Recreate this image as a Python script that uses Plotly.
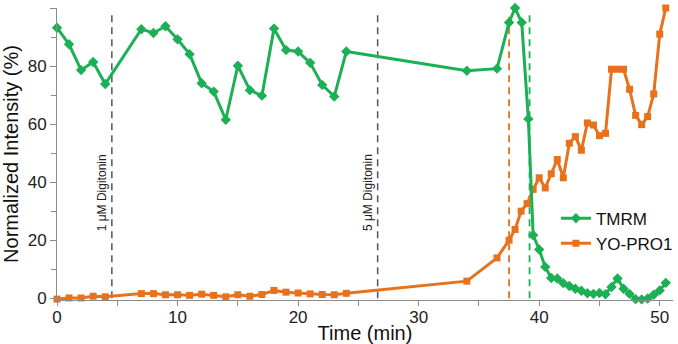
import plotly.graph_objects as go

# ---- data ----
tmrm_time = [0, 1, 2, 3, 4, 7, 8, 9, 10, 11, 12, 13, 14, 15, 16, 17, 18, 19, 20, 21, 22, 23, 24,
             34, 36.5, 37.5, 38, 38.55, 39.1, 39.5, 40, 40.5, 41, 41.5, 42, 42.5, 43, 43.5, 44,
             44.5, 45, 45.5, 46, 46.5, 47, 47.5, 48, 48.5, 49, 49.5, 50, 50.5]
tmrm_vals = [93.2, 87.5, 78.6, 81.4, 73.8, 92.7, 91.4, 93.7, 89.2, 84.1, 74.1, 71.2, 61.5, 80.1,
             71.7, 69.8, 92.9, 85.5, 85.0, 81.1, 73.5, 69.5, 85.0,
             78.4, 79.1, 95.0, 100, 95.0, 61.8, 21.7, 16.8, 10.8, 7.0, 6.8, 5.2, 4.2, 3.3, 2.6, 1.7,
             1.5, 1.8, 1.4, 3.9, 6.8, 3.3, 1.5, -0.3, -0.4, -0.1, 1.2, 2.7, 5.3]

yopro_time = [0, 1, 2, 3, 4, 7, 8, 9, 10, 11, 12, 13, 14, 15, 16, 17, 18, 19, 20, 21, 22, 23, 24,
              34, 36.5, 37.5, 38, 38.5, 39, 39.5, 40, 40.5, 41, 41.5, 42, 42.5, 43, 43.5, 44,
              44.5, 45, 45.5, 46, 46.5, 47, 47.5, 48, 48.5, 49, 49.5, 50, 50.5]
yopro_vals = [-0.3, 0.1, 0.1, 0.7, 0.5, 1.6, 1.6, 1.2, 1.2, 1.0, 1.4, 1.0, 0.5, 1.2, 0.7, 1.3,
              2.7, 2.1, 1.8, 1.5, 1.3, 1.2, 1.7,
              5.9, 13.9, 20.0, 23.7, 30.0, 32.6, 37.5, 41.5, 38.0, 42.9, 47.8, 41.5, 53.4, 55.7,
              51.0, 60.4, 59.7, 56.0, 56.8, 78.9, 78.9, 78.9, 72.0, 63.0, 59.8, 62.6, 70.4, 91.0, 100]

digitonin_times = [4.55, 26.6]
digitonin_labels = ["1 μM Digitonin", "5 μM Digitonin"]
yopro_marker_time = 37.5
tmrm_marker_time = 39.2

GREEN = "#1cb055"
ORANGE = "#e8721c"
FONT = "Arial, Liberation Sans, sans-serif"

fig = go.Figure()

fig.add_trace(go.Scatter(
    x=yopro_time, y=yopro_vals, name="YO-PRO1", mode="lines+markers",
    line=dict(color=ORANGE, width=3),
    marker=dict(symbol="square", size=7, color=ORANGE),
    cliponaxis=False, legendrank=2,
))
fig.add_trace(go.Scatter(
    x=tmrm_time, y=tmrm_vals, name="TMRM", mode="lines+markers",
    line=dict(color=GREEN, width=3),
    marker=dict(symbol="diamond", size=8, color=GREEN),
    cliponaxis=False, legendrank=1,
))

for t, lab in zip(digitonin_times, digitonin_labels):
    fig.add_shape(type="line", x0=t, x1=t, y0=0, y1=99, xref="x", yref="y",
                  line=dict(color="#555555", width=1.5, dash="7px,5px"), layer="below")
    fig.add_annotation(x=t, y=22.5, xref="x", yref="y", text=lab, showarrow=False,
                       textangle=-90, xanchor="right", yanchor="bottom", xshift=0,
                       font=dict(family=FONT, size=12, color="#222222"))

fig.add_shape(type="line", x0=yopro_marker_time, x1=yopro_marker_time, y0=0, y1=97,
              line=dict(color=ORANGE, width=1.8, dash="7px,5px"), layer="below")
fig.add_shape(type="line", x0=tmrm_marker_time, x1=tmrm_marker_time, y0=0, y1=99,
              line=dict(color=GREEN, width=1.8, dash="7px,5px"), layer="below")

axis_common = dict(
    showline=True, linecolor="#8c8c8c", linewidth=1, showgrid=False, zeroline=False,
    ticks="outside", tickcolor="#8c8c8c", tickwidth=1,
    tickfont=dict(family=FONT, size=17, color="#222222"),
    title_font=dict(family=FONT, size=20, color="#111111"),
    automargin=False,
)

fig.update_xaxes(range=[0, 51.1], dtick=10, tick0=0, ticklen=5, ticklabelstandoff=-3,
                 minor=dict(ticks="outside", dtick=5, ticklen=5, tickcolor="#8c8c8c"),
                 title_text="Time (min)", title_standoff=2, **axis_common)
fig.update_yaxes(range=[-0.6, 100], dtick=20, tick0=0, ticklen=6,
                 minor=dict(ticks="outside", dtick=10, ticklen=5, tickcolor="#8c8c8c"),
                 title_text="Normalized Intensity (%)", title_standoff=4, **axis_common)

fig.update_layout(
    width=678, height=344,
    margin=dict(l=57, r=0, t=7.5, b=44.3),
    plot_bgcolor="white", paper_bgcolor="white",
    font=dict(family=FONT, color="#222222"),
    legend=dict(x=0.81, y=0.34, xanchor="left", yanchor="top",
                font=dict(family=FONT, size=17, color="#111111"),
                bgcolor="rgba(0,0,0,0)", tracegroupgap=0, itemwidth=30),
    showlegend=True,
)

fig.write_html("out.html", config={"displayModeBar": False},
               post_script="document.body.style.margin='0';")
